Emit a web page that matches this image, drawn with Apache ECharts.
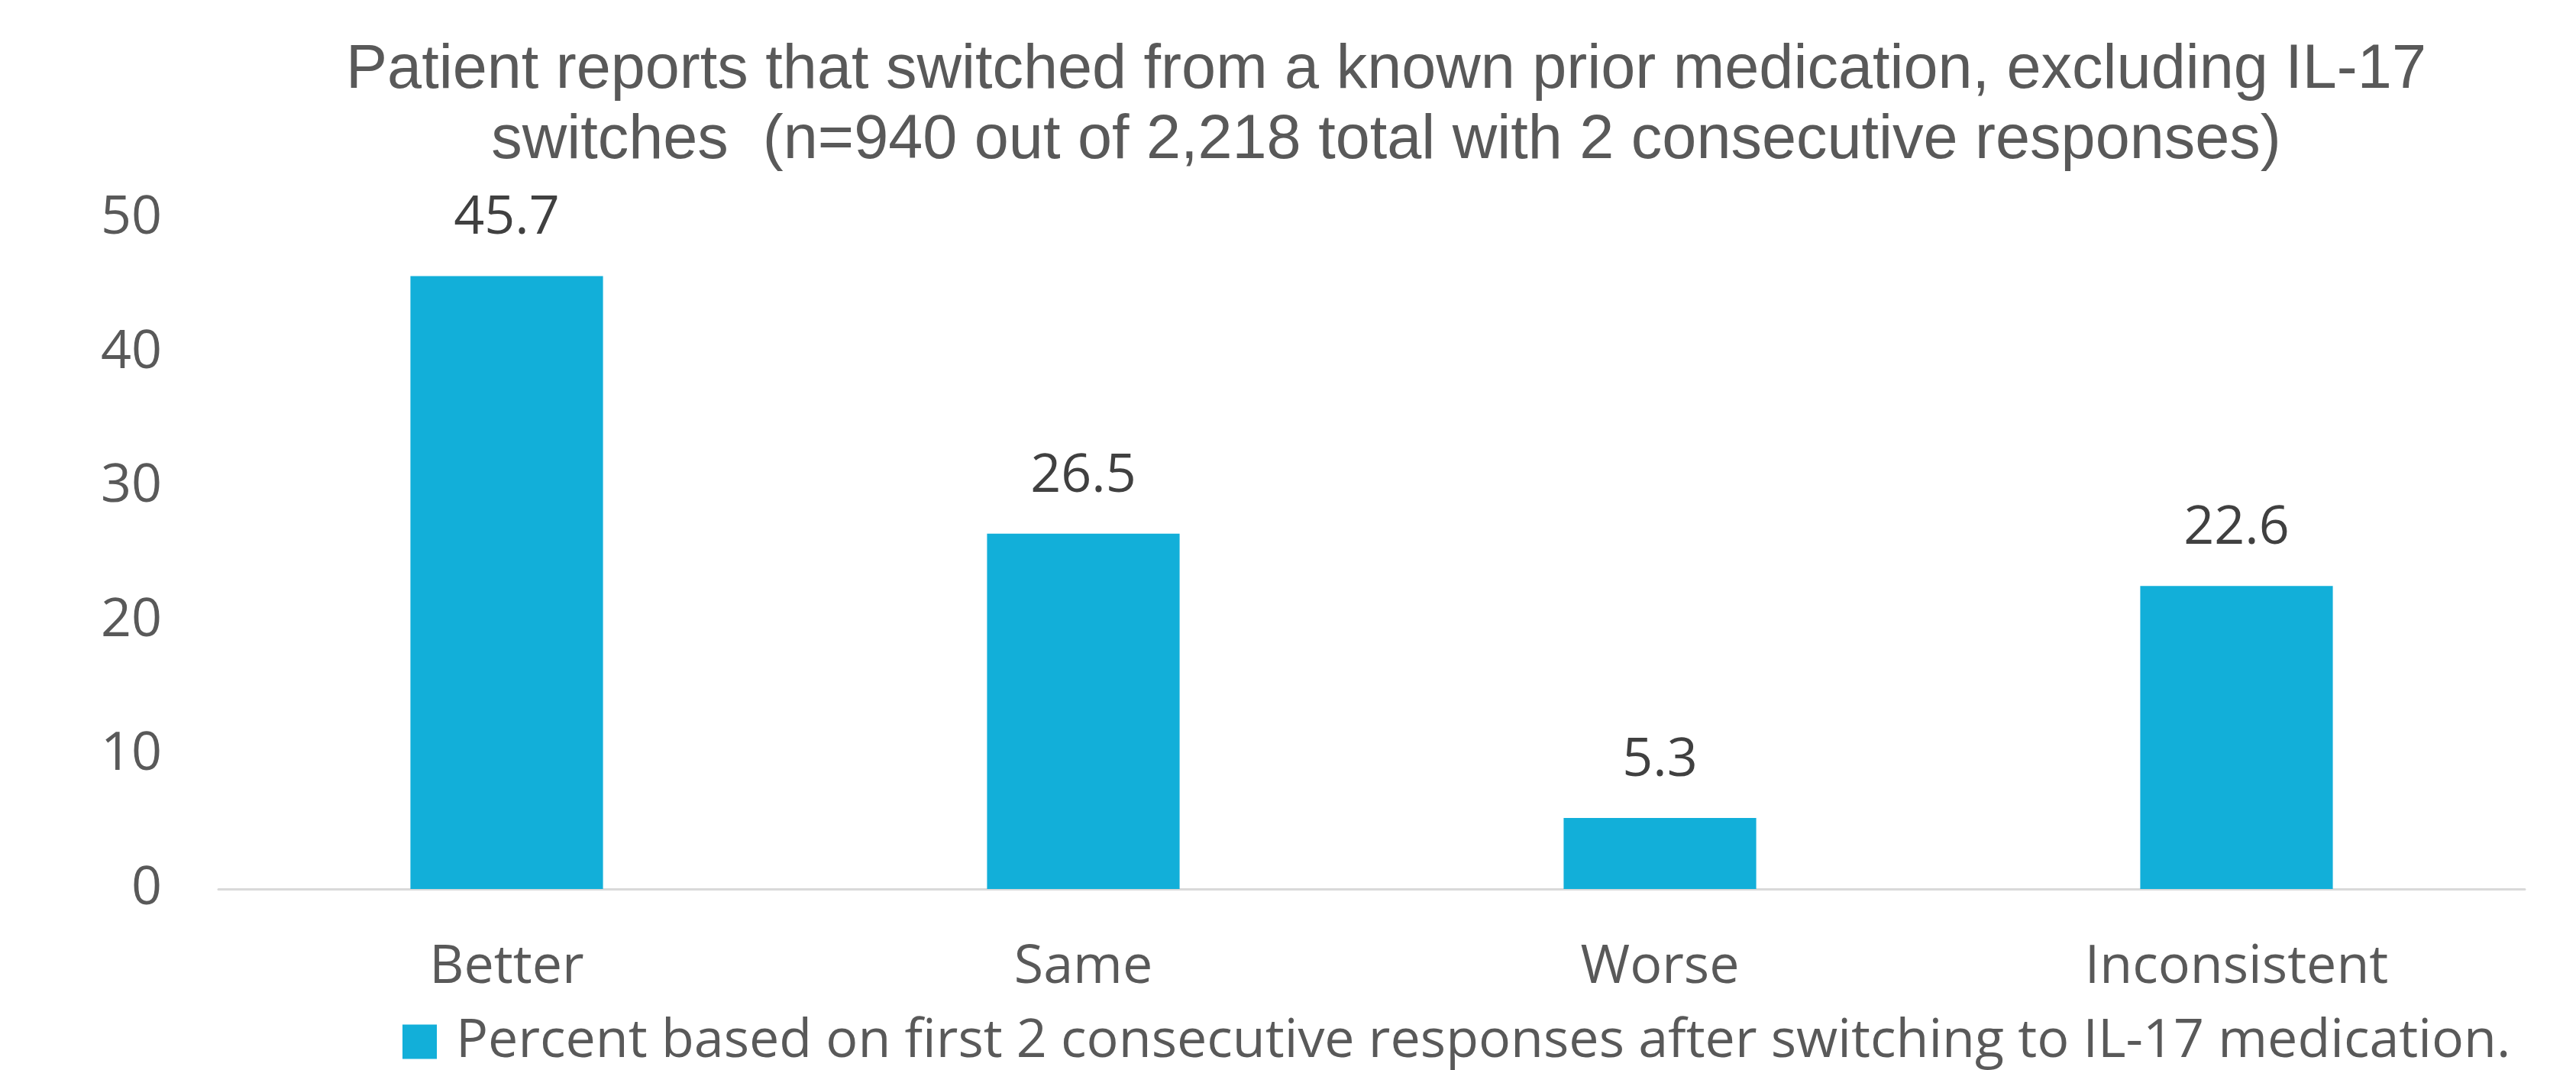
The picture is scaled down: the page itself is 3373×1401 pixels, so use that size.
<!DOCTYPE html>
<html>
<head>
<meta charset="utf-8">
<script src="https://cdn.jsdelivr.net/npm/echarts@6/dist/echarts.min.js"></script>
<style>
  html, body { margin: 0; padding: 0; background: #ffffff; }
  #chart { width: 3373px; height: 1401px; }
</style>
</head>
<body>
<div id="chart"></div>
<script>
const titleLines = [
  'Patient reports that switched from a known prior medication, excluding IL-17',
  'switches  (n=940 out of 2,218 total with 2 consecutive responses)'
];
const categories = ['Better', 'Same', 'Worse', 'Inconsistent'];
const percentValues = [45.7, 26.5, 5.3, 22.6];
const seriesName = 'Percent based on first 2 consecutive responses after switching to IL-17 medication.';
const yTicks = { min: 0, max: 50, interval: 10 };

const chart = echarts.init(document.getElementById('chart'));
chart.setOption({
  backgroundColor: '#ffffff',
  animation: false,
  title: {
    text: titleLines.join('\n'),
    left: 1810,
    textAlign: 'center',
    top: 42,
    textStyle: {
      fontFamily: '"Liberation Sans", Arial, sans-serif',
      fontSize: 81,
      fontWeight: 'normal',
      color: '#595959',
      lineHeight: 92
    }
  },
  legend: {
    data: [seriesName],
    left: 522,
    top: 1324,
    itemWidth: 45,
    itemHeight: 45,
    icon: 'rect',
    textStyle: {
      fontFamily: '"Open Sans", sans-serif',
      fontSize: 70,
      color: '#595959',
      padding: [0, 0, 0, 20]
    }
  },
  grid: {
    left: 286,
    right: 67,
    top: 286,
    bottom: 237,
    containLabel: false
  },
  xAxis: {
    type: 'category',
    data: categories,
    axisLine: { show: true, lineStyle: { color: '#d9d9d9', width: 3 } },
    axisTick: { show: false },
    axisLabel: {
      margin: 68,
      fontFamily: '"Open Sans", sans-serif',
      fontSize: 70,
      color: '#595959'
    }
  },
  yAxis: {
    type: 'value',
    min: yTicks.min,
    max: yTicks.max,
    interval: yTicks.interval,
    splitLine: { show: false },
    axisLine: { show: false },
    axisTick: { show: false },
    axisLabel: {
      margin: 74,
      fontFamily: '"Open Sans", sans-serif',
      fontSize: 70,
      color: '#595959'
    }
  },
  series: [{
    name: seriesName,
    type: 'bar',
    data: percentValues,
    barWidth: '33.4%',
    itemStyle: { color: '#12AFD9' },
    label: {
      show: true,
      position: 'top',
      distance: 40,
      fontFamily: '"Open Sans", sans-serif',
      fontSize: 70,
      color: '#404040',
      formatter: p => p.value.toFixed(1)
    }
  }]
});
</script>
</body>
</html>
